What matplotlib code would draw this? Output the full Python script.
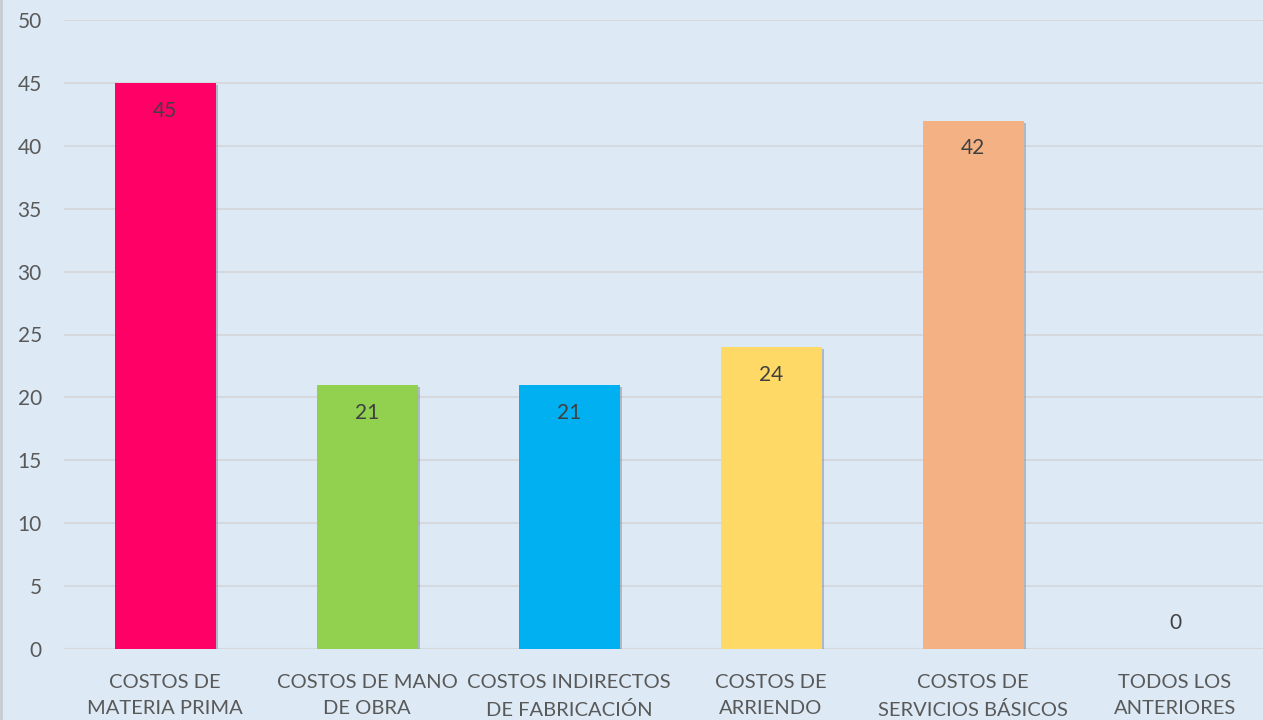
import numpy as np
import matplotlib
matplotlib.use("Agg")
import matplotlib.pyplot as plt
import matplotlib.patheffects as pe

plt.rcParams['font.family'] = ['Lato', 'DejaVu Sans']

categorias = ["COSTOS DE\nMATERIA PRIMA", "COSTOS DE MANO\nDE OBRA",
              "COSTOS INDIRECTOS\nDE FABRICACIÓN", "COSTOS DE\nARRIENDO",
              "COSTOS DE\nSERVICIOS BÁSICOS", "TODOS LOS\nANTERIORES"]
valores = [45, 21, 21, 24, 42, 0]
colores = ["#FF0066", "#92D050", "#00B0F0", "#FFD966", "#F4B183", "#A5A5A5"]
yticks = list(range(0, 51, 5))

fondo = "#DDEAF6"
fig = plt.figure(figsize=(12.63, 7.2), dpi=100, facecolor=fondo)
ax = fig.add_axes([64/1263, 71/720, 1212/1263, 629/720])
ax.set_facecolor(fondo)

x = np.arange(len(categorias))
barras = ax.bar(x, valores, width=0.5, color=colores, zorder=3)
for b in barras:
    b.set_path_effects([pe.SimplePatchShadow(offset=(1.5, -1.5), shadow_rgbFace="#7f8a99", alpha=0.5),
                        pe.Normal()])

for xi, v in zip(x, valores):
    if v > 0:
        ax.annotate(str(v), (xi, v), xytext=(0, -20), textcoords="offset points",
                    ha="center", va="center", fontsize=15, color="#404040", zorder=4)
    else:
        ax.annotate(str(v), (xi, v), xytext=(0, 19), textcoords="offset points",
                    ha="center", va="center", fontsize=15, color="#404040", zorder=4)

ax.set_xlim(-0.5, len(categorias) - 0.5)
ax.set_ylim(0, 50)
ax.set_yticks(yticks)
ax.yaxis.grid(True, color="#D5D8DC", linewidth=1.5, zorder=0)
ax.set_axisbelow(True)
ax.set_xticks(x)
ax.set_xticklabels(categorias, fontsize=14.5, color="#595959", linespacing=1.65)
ax.tick_params(axis="x", length=0, pad=18)
ax.tick_params(axis="y", length=0, pad=16, labelsize=15, labelcolor="#595959")
for s in ax.spines.values():
    s.set_visible(False)
ax.axhline(0, color="#D5D8DC", linewidth=1.5, zorder=2)

fig.add_artist(plt.Line2D([1/1263, 1/1263], [0, 1], color="#C8CCD2", linewidth=2))

fig.savefig("out.png", dpi=100, facecolor=fondo)
